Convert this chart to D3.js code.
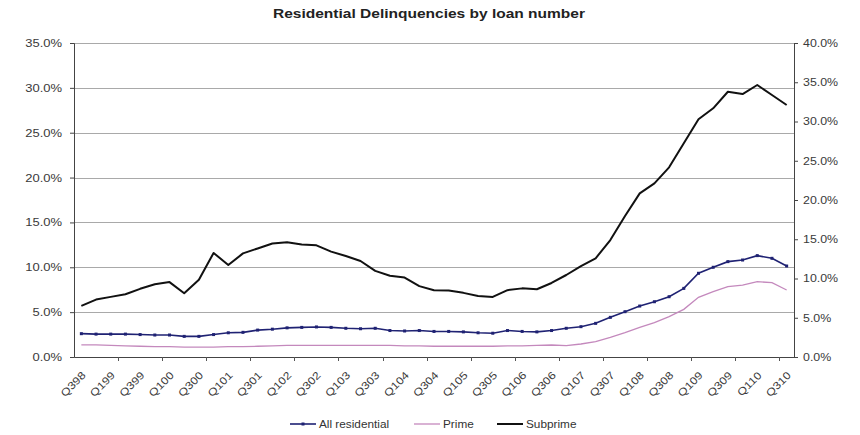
<!DOCTYPE html>
<html>
<head>
<meta charset="utf-8">
<script src="https://cdn.jsdelivr.net/npm/d3@7"></script>
<style>
  body { margin: 0; background: #fff; }
  svg { display: block; font-family: "Liberation Sans", Arial, sans-serif; }
  .axis text { fill: #3a3a3a; font-size: 11px; }
  .axis path, .axis line { stroke: #444; }
</style>
</head>
<body>
<div id="chart"></div>
<script>
var quarters = [
  "Q398", "Q498", "Q199", "Q299", "Q399", "Q499", "Q100", "Q200", "Q300", "Q400",
  "Q101", "Q201", "Q301", "Q401", "Q102", "Q202", "Q302", "Q402", "Q103", "Q203",
  "Q303", "Q403", "Q104", "Q204", "Q304", "Q404", "Q105", "Q205", "Q305", "Q405",
  "Q106", "Q206", "Q306", "Q406", "Q107", "Q207", "Q307", "Q407", "Q108", "Q208",
  "Q308", "Q408", "Q109", "Q209", "Q309", "Q409", "Q110", "Q210", "Q310"
];

// percent values, read against the left axis
var allResidential = [
  2.60, 2.55, 2.55, 2.55, 2.50, 2.45, 2.45, 2.30, 2.30, 2.50,
  2.70, 2.75, 3.00, 3.10, 3.25, 3.30, 3.35, 3.30, 3.20, 3.15,
  3.20, 2.95, 2.90, 2.95, 2.85, 2.85, 2.80, 2.70, 2.65, 2.95,
  2.85, 2.80, 2.95, 3.20, 3.38, 3.75, 4.42, 5.05, 5.68, 6.16,
  6.72, 7.65, 9.33, 10.00, 10.63, 10.81, 11.30, 11.00, 10.14
];
var prime = [
  1.35, 1.35, 1.30, 1.25, 1.20, 1.15, 1.15, 1.10, 1.10, 1.10,
  1.15, 1.15, 1.20, 1.25, 1.30, 1.30, 1.30, 1.30, 1.30, 1.30,
  1.30, 1.30, 1.25, 1.25, 1.20, 1.20, 1.20, 1.20, 1.20, 1.25,
  1.25, 1.30, 1.34, 1.27, 1.45, 1.71, 2.19, 2.71, 3.31, 3.83,
  4.50, 5.31, 6.65, 7.28, 7.84, 8.02, 8.40, 8.28, 7.47
];
var subprime = [
  5.70, 6.40, 6.70, 7.00, 7.60, 8.10, 8.35, 7.10, 8.60, 11.60,
  10.25, 11.55, 12.10, 12.65, 12.80, 12.55, 12.45, 11.75, 11.25, 10.70,
  9.60, 9.05, 8.85, 7.90, 7.45, 7.40, 7.15, 6.80, 6.70, 7.45,
  7.65, 7.55, 8.25, 9.14, 10.14, 11.00, 13.04, 15.72, 18.24, 19.36,
  21.14, 23.82, 26.50, 27.72, 29.57, 29.31, 30.32, 29.20, 28.09
];

var leftTicks = [0, 5, 10, 15, 20, 25, 30, 35];
var rightTicks = [0, 5, 10, 15, 20, 25, 30, 35, 40];

var width = 860, height = 435;
var margin = {top: 43, left: 74, bottom: 78, right: 66};
var plotRight = width - margin.right;
var plotBottom = height - margin.bottom;
// the source picture is a little stretched sideways, so text gets widened too
var stretch = 1.18;

var svg = d3.select("#chart").append("svg")
  .attr("width", width)
  .attr("height", height);

var xScale = d3.scaleBand()
  .domain(quarters)
  .range([margin.left, plotRight])
  .padding(0);
var yLeft = d3.scaleLinear().domain([0, 35]).range([plotBottom, margin.top]);
var yRight = d3.scaleLinear().domain([0, 40]).range([plotBottom, margin.top]);
var xMid = (d) => xScale(d) + xScale.bandwidth() / 2;

/* title */
svg.append("text")
  .attr("x", 273)
  .attr("y", 18)
  .attr("textLength", 312)
  .attr("lengthAdjust", "spacingAndGlyphs")
  .style("font-size", "12.5px")
  .style("font-weight", "bold")
  .style("fill", "#222")
  .text("Residential Delinquencies by loan number");

/* gridlines */
svg.append("g").selectAll("line")
  .data(leftTicks.filter(d => d > 0))
  .enter().append("line")
    .attr("x1", margin.left)
    .attr("x2", plotRight)
    .attr("y1", d => Math.round(yLeft(d)) + 0.5)
    .attr("y2", d => Math.round(yLeft(d)) + 0.5)
    .attr("stroke", "#a9a9a9")
    .attr("stroke-width", 1);

var pctFormat = d => d.toFixed(1) + "%";

svg.append("g")
  .attr("class", "axis")
  .attr("transform", "translate(" + margin.left + ",0)")
  .call(d3.axisLeft(yLeft).tickValues(leftTicks).tickFormat(pctFormat).tickSize(4))
  .call(g => g.selectAll(".tick text")
    .attr("x", 0)
    .attr("transform", "translate(-12,0) scale(" + stretch + ",1)"));

svg.append("g")
  .attr("class", "axis")
  .attr("transform", "translate(" + plotRight + ",0)")
  .call(d3.axisRight(yRight).tickValues(rightTicks).tickFormat(pctFormat).tickSize(4))
  .call(g => g.selectAll(".tick text")
    .attr("x", 0)
    .style("font-size", "10.5px")
    .attr("transform", "translate(9,0) scale(" + stretch + ",1)"));

/* category axis: labels every second quarter, tick marks every third */
var xAxis = d3.axisBottom(xScale)
  .tickValues(quarters.filter((d, i) => i % 2 === 0))
  .tickSize(0)
  .tickSizeOuter(0)
  .tickPadding(0);
var xAxisG = svg.append("g")
  .attr("class", "axis")
  .attr("transform", "translate(0," + plotBottom + ")")
  .call(xAxis);
xAxisG.selectAll("text")
  .attr("text-anchor", "end")
  .attr("dy", null)
  .attr("y", 0)
  .attr("transform", "translate(5,19) rotate(-45) scale(" + stretch + ",1)")
  .style("font-size", "10.5px");

svg.append("g").selectAll("line")
  .data(quarters.filter((d, i) => i % 3 === 0 && i > 0))
  .enter().append("line")
    .attr("x1", d => Math.round(xScale(d)) + 0.5)
    .attr("x2", d => Math.round(xScale(d)) + 0.5)
    .attr("y1", plotBottom)
    .attr("y2", plotBottom + 4)
    .attr("stroke", "#555");

/* series */
var line = d3.line()
  .x((d, i) => xMid(quarters[i]))
  .y(d => yLeft(d));

svg.append("path")
  .datum(prime)
  .attr("fill", "none")
  .attr("stroke", "#c489bd")
  .attr("stroke-width", 1.3)
  .attr("d", line);

svg.append("path")
  .datum(allResidential)
  .attr("fill", "none")
  .attr("stroke", "#1f2273")
  .attr("stroke-width", 1.6)
  .attr("d", line);

svg.append("g").selectAll("rect")
  .data(allResidential)
  .enter().append("rect")
    .attr("x", (d, i) => xMid(quarters[i]) - 1.5)
    .attr("y", d => yLeft(d) - 1.5)
    .attr("width", 3)
    .attr("height", 3)
    .attr("fill", "#1f2273");

svg.append("path")
  .datum(subprime)
  .attr("fill", "none")
  .attr("stroke", "#111")
  .attr("stroke-width", 2)
  .attr("stroke-linejoin", "round")
  .attr("d", line);

/* legend */
var legendItems = [
  {name: "All residential", color: "#1f2273", width: 1.6, marker: true, x: 290},
  {name: "Prime", color: "#c489bd", width: 1.3, marker: false, x: 414},
  {name: "Subprime", color: "#111", width: 2, marker: false, x: 497}
];
var legendY = 424;
var legend = svg.append("g").selectAll("g")
  .data(legendItems)
  .enter().append("g")
    .attr("transform", d => "translate(" + d.x + "," + legendY + ")");
legend.append("line")
  .attr("x1", 0).attr("x2", 26)
  .attr("stroke", d => d.color)
  .attr("stroke-width", d => d.width);
legend.filter(d => d.marker).append("rect")
  .attr("x", 11.5).attr("y", -1.5)
  .attr("width", 3).attr("height", 3)
  .attr("fill", d => d.color);
legend.append("text")
  .attr("dy", "0.35em")
  .attr("transform", "translate(29,0) scale(" + stretch + ",1)")
  .style("font-size", "10px")
  .style("fill", "#333")
  .text(d => d.name);
</script>
</body>
</html>
